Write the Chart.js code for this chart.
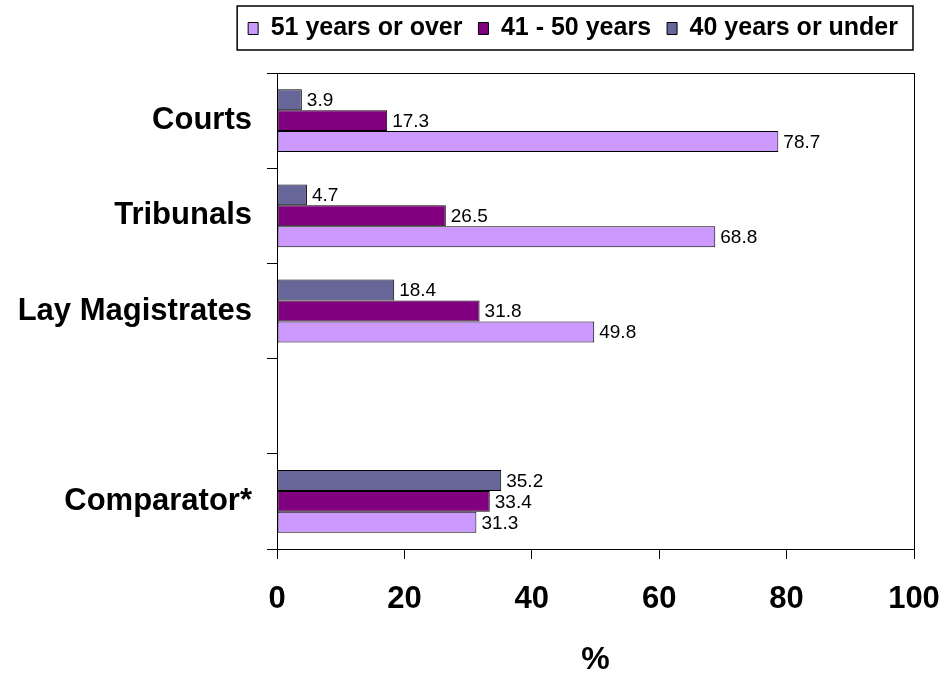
<!DOCTYPE html>
<html>
<head>
<meta charset="utf-8">
<script src="https://cdn.jsdelivr.net/npm/chart.js@4.4.0/dist/chart.umd.min.js"></script>
<style>
  body { margin: 0; background: #fff; }
  #wrap { width: 943px; height: 679px; }
</style>
</head>
<body>
<div id="wrap"><canvas id="ageChart"></canvas></div>
<script>
const categories = ['Courts', 'Tribunals', 'Lay Magistrates', '', 'Comparator*'];
const under40 = [3.9, 4.7, 18.4, null, 35.2];
const age41to50 = [17.3, 26.5, 31.8, null, 33.4];
const over51 = [78.7, 68.8, 49.8, null, 31.3];
const xTicks = [0, 20, 40, 60, 80, 100];

const font = '"Liberation Sans", Arial, sans-serif';

// push the plot area down below the legend box
const legendGap = {
    id: 'legendGap',
    beforeInit(chart) {
        const origFit = chart.legend.fit;
        chart.legend.fit = function () {
            origFit.bind(chart.legend)();
            this.height += 22;
        };
    }
};

// frame round the legend and round the plot area
const frames = {
    id: 'frames',
    afterDraw(chart) {
        const ctx = chart.ctx;
        const area = chart.chartArea;
        const lg = chart.legend;
        ctx.save();
        ctx.strokeStyle = '#000';
        ctx.lineWidth = 1;
        ctx.strokeRect(Math.round(area.left) + 0.5, Math.round(area.top) + 0.5,
            Math.round(area.right - area.left), Math.round(area.bottom - area.top));
        if (lg && lg.legendHitBoxes.length) {
            const hb = lg.legendHitBoxes;
            const first = hb.reduce((a, b) => (b.left < a.left ? b : a));
            const top = hb[0].top - 10;
            ctx.lineWidth = 1.5;
            ctx.strokeRect(first.left - 11, top, lg.right - 1 - (first.left - 11), 44);
        }
        ctx.restore();
    }
};

// value labels to the right of each bar
const valueLabels = {
    id: 'valueLabels',
    afterDatasetsDraw(chart) {
        const ctx = chart.ctx;
        ctx.save();
        ctx.font = '19px ' + font;
        ctx.fillStyle = '#000';
        ctx.textAlign = 'left';
        ctx.textBaseline = 'middle';
        chart.data.datasets.forEach((ds, di) => {
            chart.getDatasetMeta(di).data.forEach((bar, i) => {
                const v = ds.data[i];
                if (v === null || v === undefined) return;
                ctx.fillText(v.toFixed(1), bar.x + 5, bar.y + 1);
            });
        });
        ctx.restore();
    }
};

const ctx = document.getElementById('ageChart').getContext('2d');
new Chart(ctx, {
    type: 'bar',
    data: {
        labels: categories,
        datasets: [
            { label: '40 years or under', data: under40, backgroundColor: '#666699' },
            { label: '41 - 50 years', data: age41to50, backgroundColor: '#800080' },
            { label: '51 years or over', data: over51, backgroundColor: '#CC99FF' }
        ].map(d => Object.assign(d, {
            borderColor: '#000',
            borderWidth: 1,
            borderSkipped: false,
            categoryPercentage: 0.66,
            barPercentage: 1.0
        }))
    },
    options: {
        indexAxis: 'y',
        responsive: true,
        maintainAspectRatio: false,
        animation: false,
        layout: { padding: { left: 17, right: 29, top: 0, bottom: 0 } },
        plugins: {
            tooltip: { enabled: false },
            legend: {
                position: 'top',
                align: 'end',
                reverse: true,
                labels: {
                    color: '#000',
                    font: { family: font, size: 25, weight: 'bold' },
                    boxWidth: 10,
                    boxHeight: 12,
                    padding: 16
                }
            }
        },
        scales: {
            x: {
                min: 0,
                max: 100,
                afterBuildTicks(scale) {
                    scale.ticks = xTicks.map(v => ({ value: v }));
                },
                afterFit(scale) {
                    scale.height = 130;
                    scale.paddingLeft = 0;
                    scale.paddingRight = 0;
                },
                grid: {
                    drawOnChartArea: false,
                    drawTicks: true,
                    tickLength: 10,
                    color: '#000'
                },
                border: { color: '#000' },
                ticks: {
                    color: '#000',
                    padding: 22,
                    maxRotation: 0,
                    font: { family: font, size: 31, weight: 'bold' }
                },
                title: {
                    display: true,
                    text: '%',
                    color: '#000',
                    font: { family: font, size: 32, weight: 'bold' },
                    padding: { top: 0, bottom: 0 }
                }
            },
            y: {
                afterFit(scale) {
                    scale.width = 260;
                    scale.paddingTop = 0;
                    scale.paddingBottom = 0;
                },
                grid: {
                    drawOnChartArea: false,
                    drawTicks: true,
                    tickLength: 10,
                    offset: true,
                    color: '#000'
                },
                border: { color: '#000' },
                ticks: {
                    color: '#000',
                    padding: 15,
                    font: { family: font, size: 31, weight: 'bold' }
                }
            }
        }
    },
    plugins: [legendGap, valueLabels, frames]
});
</script>
</body>
</html>
